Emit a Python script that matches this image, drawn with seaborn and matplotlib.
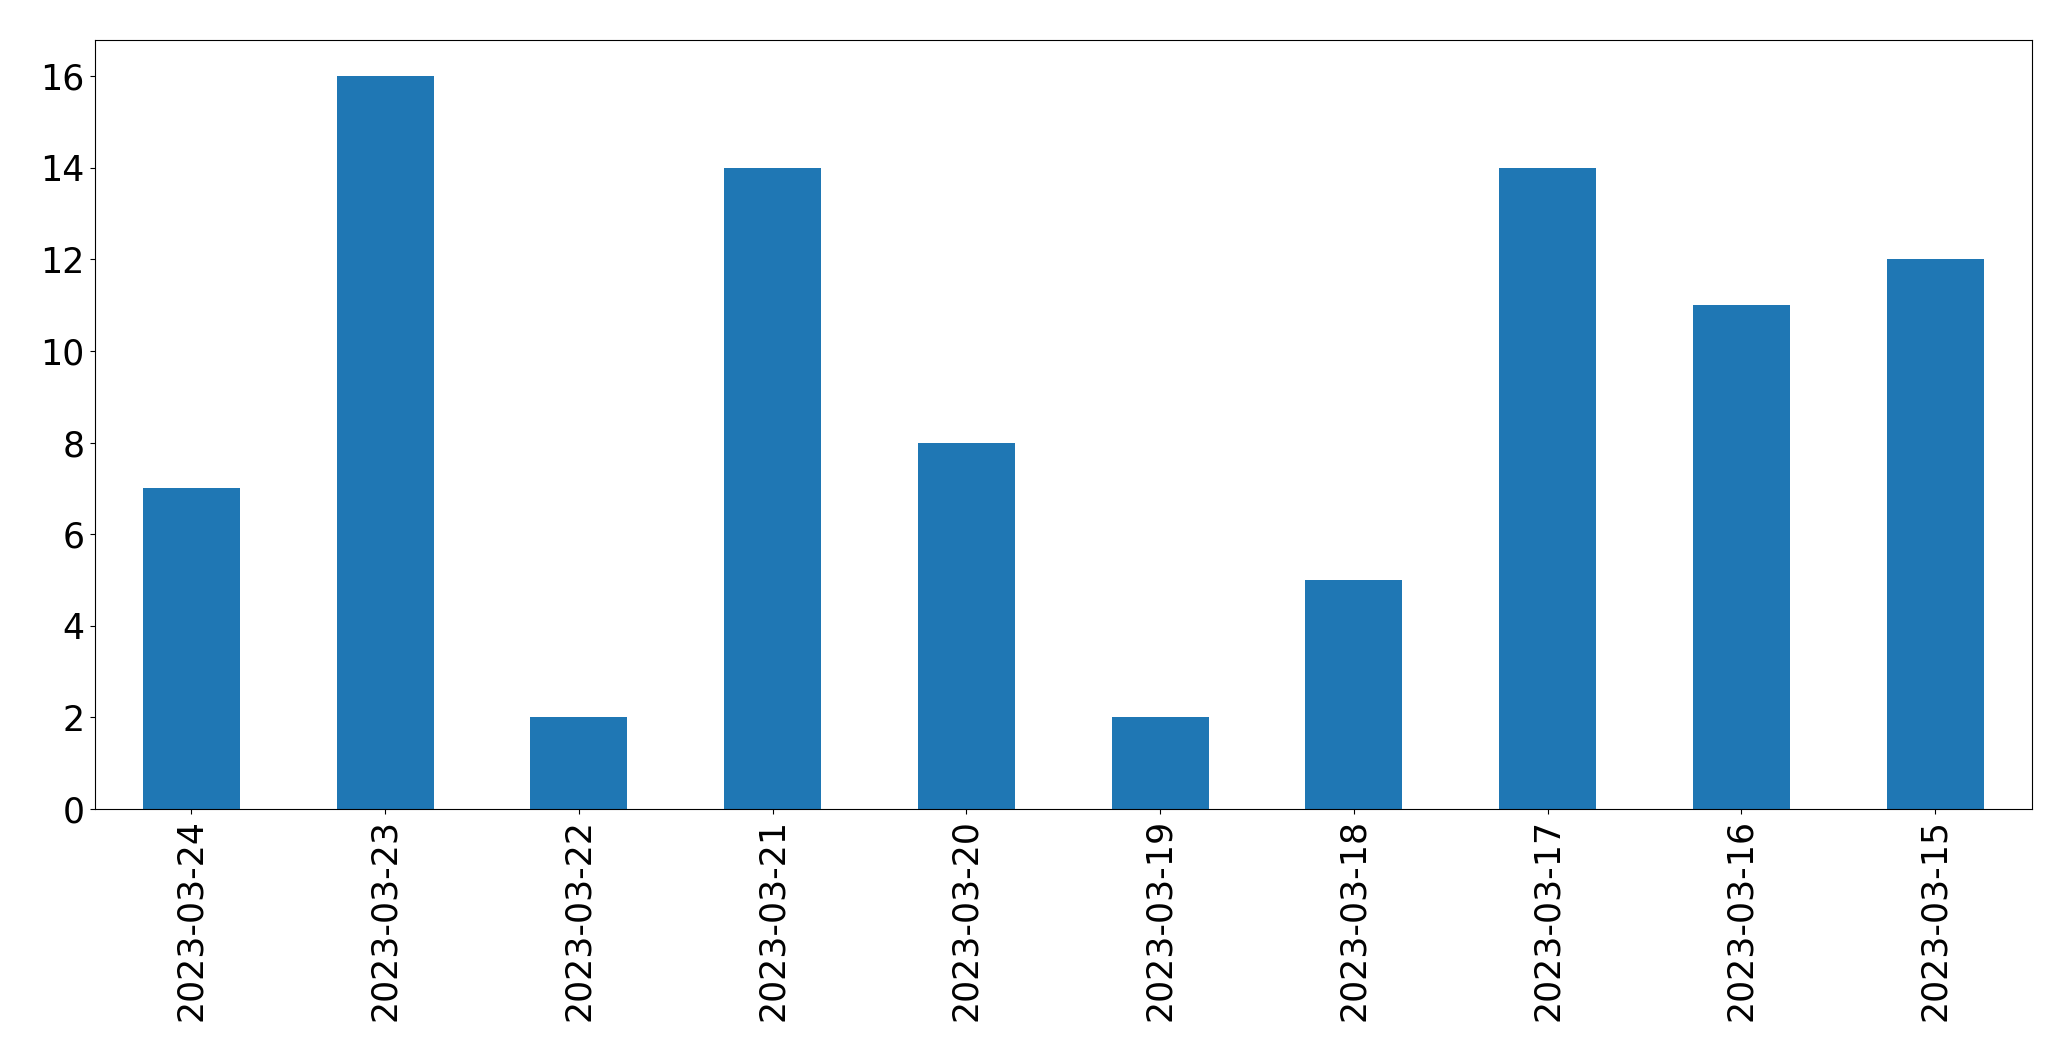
import matplotlib
matplotlib.use("Agg")
import matplotlib.pyplot as plt
import seaborn as sns
import pandas as pd

dates = ["2023-03-24", "2023-03-23", "2023-03-22", "2023-03-21", "2023-03-20",
         "2023-03-19", "2023-03-18", "2023-03-17", "2023-03-16", "2023-03-15"]
counts = [7, 16, 2, 14, 8, 2, 5, 14, 11, 12]

df = pd.DataFrame({"date": dates, "count": counts})

W, H = 2071, 1061
fig = plt.figure(figsize=(W / 100, H / 100), dpi=100)
left, right, top, bottom = 94.5, 2032, 39.5, 809
ax = fig.add_axes([left / W, 1 - bottom / H, (right - left) / W, (bottom - top) / H])
sns.barplot(data=df, x="date", y="count", order=dates, color="#1f77b4",
            saturation=1, width=0.5, linewidth=0, ax=ax)
ax.set_xlabel("")
ax.set_ylabel("")
ax.set_xlim(-0.5, len(dates) - 0.5)
ax.set_ylim(0, 16.8)
ax.set_yticks(range(0, 17, 2))
ax.tick_params(axis="both", labelsize=25)
plt.setp(ax.get_xticklabels(), rotation=90)
fig.savefig("out.png", dpi=100)
